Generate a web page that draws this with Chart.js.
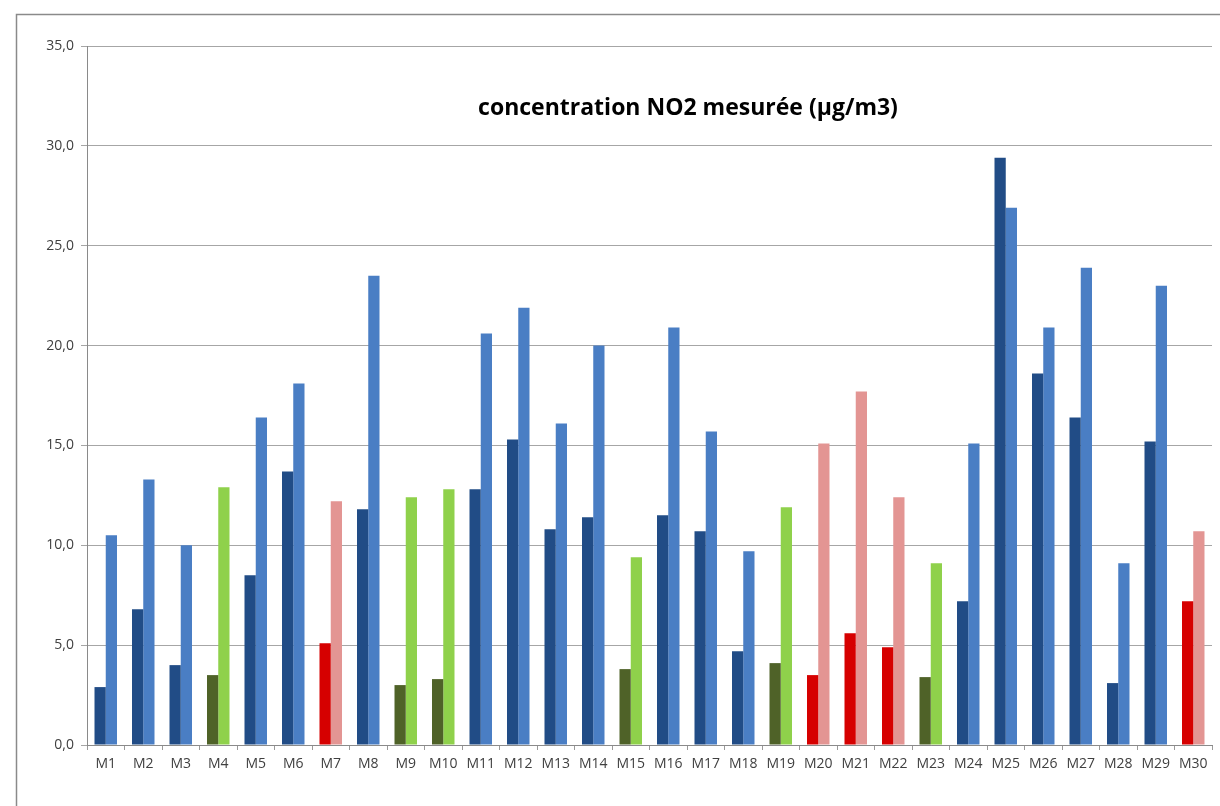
<!DOCTYPE html>
<html>
<head>
<meta charset="utf-8">
<script src="https://cdn.jsdelivr.net/npm/chart.js@4.4.1/dist/chart.umd.min.js"></script>
<style>
html,body{margin:0;padding:0;background:#fff;}
#wrap{width:1220px;height:806px;position:relative;}
</style>
</head>
<body>
<div id="wrap"><canvas id="c" width="1220" height="806"></canvas></div>
<script>
const categories = ['M1','M2','M3','M4','M5','M6','M7','M8','M9','M10','M11','M12','M13','M14','M15','M16','M17','M18','M19','M20','M21','M22','M23','M24','M25','M26','M27','M28','M29','M30'];
const seriesA = [2.9,6.8,4.0,3.5,8.5,13.7,5.1,11.8,3.0,3.3,12.8,15.3,10.8,11.4,3.8,11.5,10.7,4.7,4.1,3.5,5.6,4.9,3.4,7.2,29.4,18.6,16.4,3.1,15.2,7.2];
const seriesB = [10.5,13.3,10.0,12.9,16.4,18.1,12.2,23.5,12.4,12.8,20.6,21.9,16.1,20.0,9.4,20.9,15.7,9.7,11.9,15.1,17.7,12.4,9.1,15.1,26.9,20.9,23.9,9.1,23.0,10.7];
// site type per category: b = blue, g = green, r = red
const siteType = ['b','b','b','g','b','b','r','b','g','g','b','b','b','b','g','b','b','b','g','r','r','r','g','b','b','b','b','b','b','r'];
const titleText = 'concentration NO2 mesurée (µg/m3)';

const darkColors = {b:'#214C86', g:'#4F6228', r:'#D60000'};
const lightColors = {b:'#4A7EC4', g:'#8FD14B', r:'#E39593'};

const framePlugin = {
  id:'frame',
  beforeDraw(chart){
    const ctx = chart.ctx;
    ctx.save();
    ctx.strokeStyle = '#8a8a8a';
    ctx.lineWidth = 1.5;
    ctx.beginPath();
    ctx.moveTo(16.5, 806);
    ctx.lineTo(16.5, 14.5);
    ctx.lineTo(1220, 14.5);
    ctx.stroke();
    ctx.restore();
  },
  afterDraw(chart){
    const ctx = chart.ctx;
    const a = chart.chartArea;
    ctx.save();
    ctx.fillStyle = '#000';
    ctx.font = 'bold 23px "Open Sans", sans-serif';
    ctx.textAlign = 'center';
    ctx.textBaseline = 'middle';
    ctx.fillText(titleText, a.left + 601, a.top + 62);
    ctx.restore();
  }
};

new Chart(document.getElementById('c'), {
  type:'bar',
  data:{
    labels: categories,
    datasets:[
      {data: seriesA, backgroundColor: siteType.map(t=>darkColors[t]), categoryPercentage:0.6, barPercentage:1.0},
      {data: seriesB, backgroundColor: siteType.map(t=>lightColors[t]), categoryPercentage:0.6, barPercentage:1.0}
    ]
  },
  options:{
    responsive:false,
    animation:false,
    layout:{padding:{top:46,right:8,left:0,bottom:0}},
    plugins:{legend:{display:false}, tooltip:{enabled:false}, title:{display:false}},
    scales:{
      x:{
        afterFit(s){ s.height = 61; },
        grid:{drawOnChartArea:false, drawTicks:true, tickLength:5, color:'#9a9a9a'},
        border:{display:true, color:'#8a8a8a', width:1},
        ticks:{color:'#404040', font:{family:'"Open Sans", sans-serif', size:14}, padding:6, maxRotation:0, autoSkip:false}
      },
      y:{
        min:0, max:35,
        afterFit(s){ s.width = 87; },
        grid:{color:'#a6a6a6', drawTicks:true, tickLength:6},
        border:{display:true, color:'#8a8a8a', width:1},
        ticks:{stepSize:5, color:'#404040', font:{family:'"Open Sans", sans-serif', size:14}, padding:7,
          callback:v=>v.toFixed(1).replace('.',',')}
      }
    }
  },
  plugins:[framePlugin]
});
</script>
</body>
</html>
